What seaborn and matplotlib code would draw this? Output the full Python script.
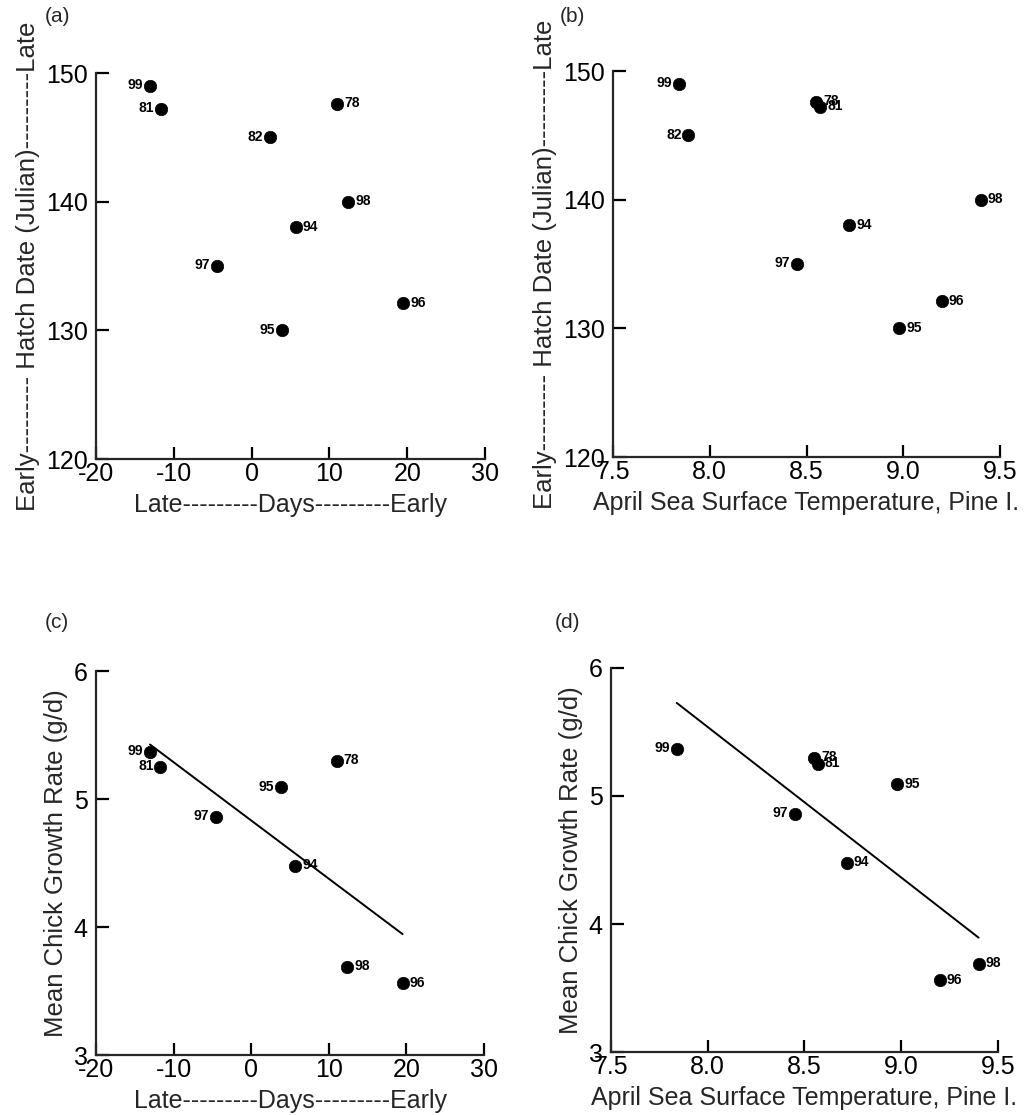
import numpy as np
import pandas as pd
import matplotlib
matplotlib.use("Agg")
import matplotlib.pyplot as plt
import seaborn as sns

# Per-year observations
years = ["78", "81", "82", "94", "95", "96", "97", "98", "99"]
hatch_days = [11.0, -11.7, 2.4, 5.7, 3.85, 19.5, -4.5, 12.4, -13.05]   # Late--Early (days)
april_sst = [8.55, 8.57, 7.89, 8.72, 8.98, 9.20, 8.45, 9.40, 7.84]     # deg C, Pine I.
hatch_date = [147.6, 147.2, 145.0, 138.0, 130.0, 132.1, 135.0, 140.0, 149.0]  # Julian day
growth_rate = [5.30, 5.25, np.nan, 4.48, 5.09, 3.56, 4.86, 3.69, 5.37]  # g/d

days_ticks = [-20, -10, 0, 10, 20, 30]
sst_ticks = [7.5, 8.0, 8.5, 9.0, 9.5]
hatch_ticks = [120, 130, 140, 150]
growth_ticks = [3, 4, 5, 6]

# years whose label sits on the left of the dot, per panel
left_a = ["99", "81", "82", "97", "95"]
left_b = ["99", "82", "97"]
left_c = ["99", "81", "95", "97"]
left_d = ["99", "97"]

df = pd.DataFrame({"year": years, "days": hatch_days, "sst": april_sst,
                   "hatch": hatch_date, "growth": growth_rate})
dg = df.dropna(subset=["growth"])

sns.set_style("ticks")
plt.rcParams["font.family"] = ["Liberation Sans", "DejaVu Sans"]
plt.rcParams["axes.linewidth"] = 1.6

fig = plt.figure(figsize=(10.35, 11.15), dpi=100)

boxes = {
    "a": [0.0928, 0.5883, 0.3758, 0.3462],
    "b": [0.5923, 0.5901, 0.3739, 0.3462],
    "c": [0.0928, 0.0538, 0.3749, 0.3444],
    "d": [0.5903, 0.0565, 0.3739, 0.3444],
}

days_label = "Late" + "-" * 9 + "Days" + "-" * 9 + "Early"
sst_label = "April Sea Surface Temperature, Pine I."
hatch_label = "Early" + "-" * 9 + " Hatch Date (Julian)" + "-" * 9 + "Late"
growth_label = "Mean Chick Growth Rate (g/d)"

panels = [
    ("a", df, "days", "hatch", days_ticks, hatch_ticks, days_label, hatch_label, left_a, False, "{:g}"),
    ("b", df, "sst", "hatch", sst_ticks, hatch_ticks, sst_label, hatch_label, left_b, False, "{:.1f}"),
    ("c", dg, "days", "growth", days_ticks, growth_ticks, days_label, growth_label, left_c, True, "{:g}"),
    ("d", dg, "sst", "growth", sst_ticks, growth_ticks, sst_label, growth_label, left_d, True, "{:.1f}"),
]

for key, data, xcol, ycol, xt, yt, xl, yl, lefts, fit, fmt in panels:
    ax = fig.add_axes(boxes[key])
    sns.scatterplot(data=data, x=xcol, y=ycol, ax=ax, color="black", s=80,
                    edgecolor="black", linewidth=0.5, zorder=3)
    if fit:
        sns.regplot(data=data, x=xcol, y=ycol, ax=ax, scatter=False, ci=None,
                    truncate=True, color="black", line_kws={"lw": 1.4})
    for _, r in data.iterrows():
        on_left = r["year"] in lefts
        ax.annotate(r["year"], (r[xcol], r[ycol]),
                    xytext=(-5 if on_left else 5, 0.5), textcoords="offset points",
                    ha="right" if on_left else "left", va="center",
                    fontsize=10, fontweight="bold", color="black")
    ax.set_xlim(xt[0], xt[-1])
    ax.set_ylim(yt[0], yt[-1])
    ax.set_xticks(xt)
    ax.set_xticklabels([fmt.format(v) for v in xt])
    ax.set_yticks(yt)
    ax.set_yticklabels([str(v) for v in yt])
    sns.despine(ax=ax)
    ax.tick_params(axis="both", direction="in", length=9, width=1.6,
                   labelsize=18, colors="black")
    ax.tick_params(axis="x", pad=2)
    ax.tick_params(axis="y", pad=6)
    ax.set_xlabel(xl, fontsize=18, labelpad=5)
    ax.set_ylabel(yl, fontsize=18.5, labelpad=4)
    ax.patch.set_alpha(0)

# panel letters
fig.text(57 / 1035, 1 - 17 / 1115, "(a)", fontsize=15, ha="center", va="center")
fig.text(572 / 1035, 1 - 17 / 1115, "(b)", fontsize=15, ha="center", va="center")
fig.text(57 / 1035, 1 - 623 / 1115, "(c)", fontsize=15, ha="center", va="center")
fig.text(568 / 1035, 1 - 623 / 1115, "(d)", fontsize=15, ha="center", va="center")

fig.savefig("out.png", dpi=100, facecolor="white")
